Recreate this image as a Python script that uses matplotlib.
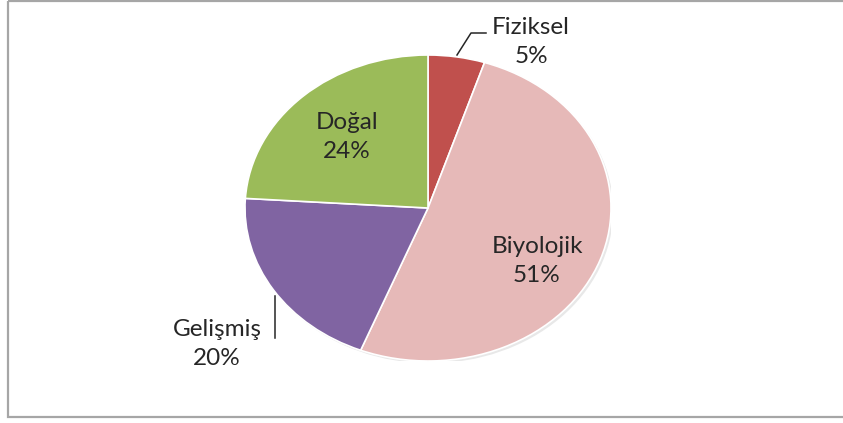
import matplotlib.pyplot as plt
from matplotlib.patches import Ellipse, Rectangle

names = ['Fiziksel', 'Biyolojik', 'Gelişmiş', 'Doğal']
values = [5, 51, 20, 24]
colors = ['#C0504D', '#E6B9B8', '#8064A2', '#9BBB59']

W, H = 843, 423
plt.rcParams['font.family'] = ['Lato', 'DejaVu Sans']

fig = plt.figure(figsize=(W / 100, H / 100), dpi=100)

# pie axes sized to the (stretched) ellipse box
x0, x1, y0, y1 = 245, 611, 55, 361
ax = fig.add_axes([x0 / W, (H - y1) / H, (x1 - x0) / W, (y1 - y0) / H])
ax.add_patch(Ellipse((0.012, -0.015), 2.0, 2.0, color='#D9D9D9', alpha=0.6, lw=0, zorder=0))
ax.pie(values, colors=colors, startangle=90, counterclock=False, radius=1,
       wedgeprops=dict(edgecolor='white', linewidth=1.2))
ax.set_aspect('auto')
ax.set_xlim(-1, 1)
ax.set_ylim(-1, 1)
ax.axis('off')

# overlay axes in pixel coordinates (y down), on top of the pie
top = fig.add_axes([0, 0, 1, 1])
top.set_xlim(0, W)
top.set_ylim(H, 0)
top.axis('off')
top.patch.set_alpha(0)
top.add_patch(Rectangle((8, 1.5), 900, 416, fill=False, edgecolor='#A6A6A6', lw=1.6))

# label placement (pixel coords of label centre)
label_pos = [(531, 42), (537, 261), (217, 344), (347, 137)]
for name, v, (lx, ly) in zip(names, values, label_pos):
    top.text(lx, ly, f'{name}\n{v}%', ha='center', va='center', fontsize=17.5,
             color='#262626', linespacing=1.45)

# leader lines
top.plot([457, 471, 486], [55, 33, 33], color='#262626', lw=1.1)
top.plot([275, 275], [296, 338], color='#262626', lw=1.1)

fig.savefig('out.png', dpi=100)
